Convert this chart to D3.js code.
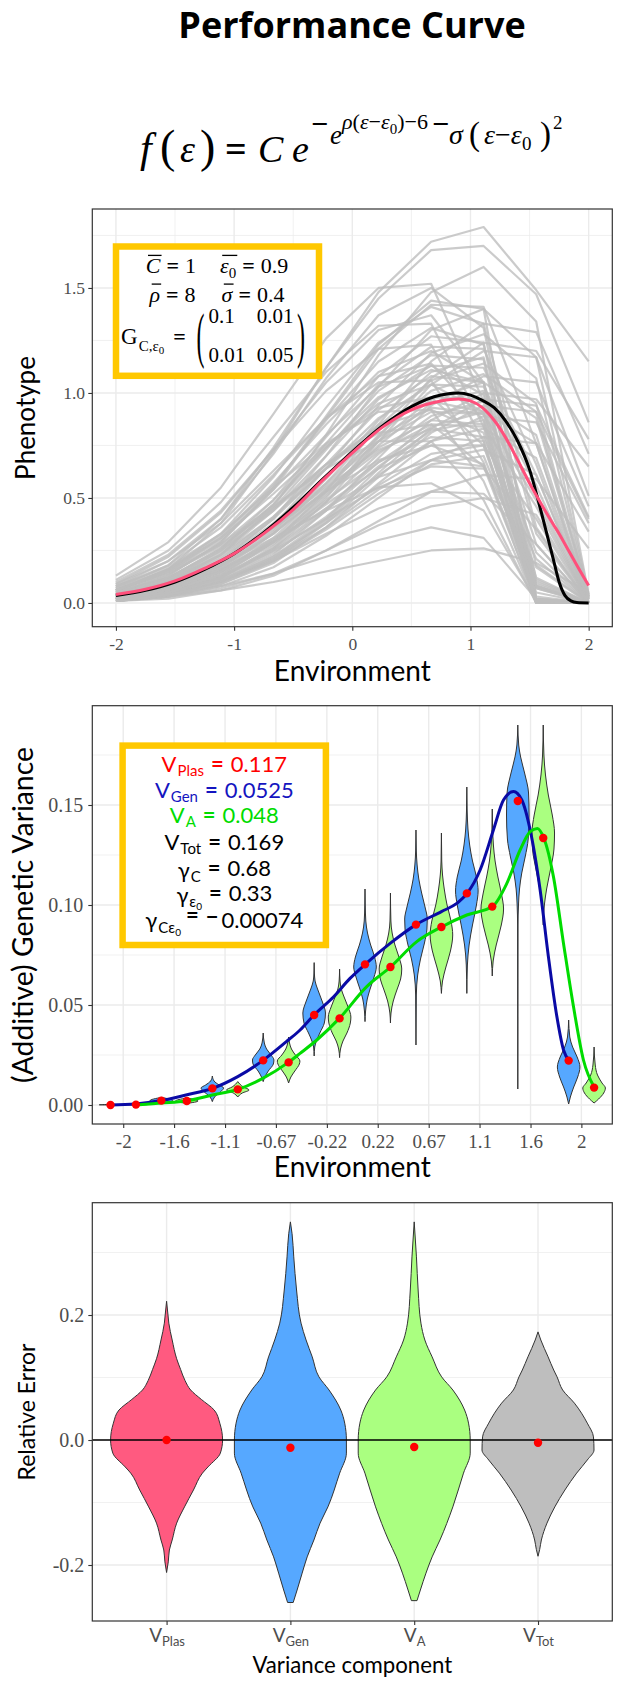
<!DOCTYPE html>
<html>
<head>
<meta charset="utf-8">
<script src="https://cdn.jsdelivr.net/npm/d3@7"></script>
<style>
  body { margin: 0; background: #fff; }
  svg  { display: block; }
</style>
</head>
<body>
<svg id="chart" width="621" height="1685"></svg>
<script>
// ---------- data ----------

// panel 1: environments where every individual curve is evaluated
const envGrid = [-2, -1.556, -1.111, -0.667, -0.222, 0.222, 0.667, 1.111, 1.556, 2];

// individual performance curves (grey)
const phenoLines = [
  [0.06,0.16,0.38,0.72,1.12,1.48,1.72,1.79,1.49,1.15],
  [0.07,0.18,0.40,0.74,1.12,1.45,1.68,1.70,1.47,0.86],
  [0.13,0.29,0.55,0.90,1.26,1.50,1.52,0.96,0.00,0.00],
  [0.08,0.20,0.40,0.71,1.07,1.37,1.50,1.31,0.11,0.00],
  [0.05,0.13,0.29,0.54,0.88,1.21,1.42,1.41,0.76,0.00],
  [0.03,0.08,0.20,0.40,0.70,1.03,1.30,1.40,1.17,0.04],
  [0.02,0.05,0.13,0.29,0.53,0.85,1.15,1.33,1.29,0.71],
  [0.09,0.22,0.43,0.73,1.05,1.30,1.37,1.05,0.01,0.00],
  [0.06,0.15,0.31,0.56,0.87,1.15,1.31,1.23,0.33,0.00],
  [0.05,0.12,0.26,0.49,0.79,1.08,1.27,1.24,0.02,0.00],
  [0.03,0.08,0.18,0.37,0.64,0.94,1.19,1.28,1.07,0.03],
  [0.10,0.23,0.44,0.73,1.01,1.21,1.23,0.77,0.00,0.00],
  [0.04,0.11,0.25,0.47,0.76,1.04,1.22,1.21,0.66,0.00],
  [0.02,0.05,0.12,0.26,0.48,0.77,1.04,1.20,1.17,0.51],
  [0.06,0.16,0.32,0.57,0.85,1.10,1.20,1.05,0.09,0.00],
  [0.02,0.07,0.17,0.34,0.59,0.87,1.10,1.17,0.18,0.00],
  [0.04,0.10,0.23,0.44,0.70,0.97,1.13,1.12,0.61,0.00],
  [0.08,0.18,0.36,0.61,0.88,1.08,1.14,0.87,0.01,0.00],
  [0.02,0.07,0.16,0.33,0.57,0.84,1.06,1.14,0.95,0.03],
  [0.05,0.12,0.26,0.47,0.74,0.98,1.11,1.05,0.28,0.00],
  [0.04,0.10,0.22,0.41,0.66,0.92,1.08,1.05,0.01,0.00],
  [0.01,0.04,0.11,0.23,0.44,0.69,0.94,1.08,1.05,0.46],
  [0.09,0.20,0.38,0.63,0.88,1.05,1.06,0.67,0.00,0.00],
  [0.04,0.10,0.21,0.40,0.64,0.88,1.04,1.03,0.56,0.00],
  [0.02,0.06,0.15,0.30,0.52,0.77,0.97,1.05,0.88,0.03],
  [0.06,0.14,0.28,0.49,0.74,0.95,1.04,0.91,0.07,0.00],
  [0.02,0.06,0.14,0.29,0.51,0.75,0.95,1.01,0.12,0.00],
  [0.035,0.09,0.20,0.38,0.60,0.83,0.98,0.97,0.52,0.00],
  [0.07,0.16,0.31,0.52,0.75,0.93,0.98,0.75,0.01,0.00],
  [0.01,0.04,0.10,0.21,0.39,0.62,0.83,0.97,0.94,0.41],
  [0.04,0.11,0.23,0.41,0.64,0.85,0.96,0.91,0.24,0.00],
  [0.02,0.06,0.14,0.28,0.48,0.71,0.89,0.96,0.80,0.02],
  [0.03,0.09,0.19,0.36,0.57,0.79,0.93,0.90,0.01,0.00],
  [0.08,0.17,0.33,0.55,0.76,0.91,0.92,0.58,0.00,0.00],
  [0.03,0.08,0.18,0.35,0.56,0.77,0.91,0.90,0.49,0.00],
  [0.05,0.12,0.25,0.44,0.66,0.84,0.92,0.81,0.07,0.00],
  [0.02,0.05,0.13,0.26,0.45,0.67,0.84,0.91,0.76,0.02],
  [0.01,0.03,0.09,0.19,0.36,0.57,0.77,0.89,0.86,0.38],
  [0.02,0.05,0.12,0.25,0.44,0.65,0.82,0.87,0.10,0.00],
  [0.03,0.08,0.17,0.33,0.53,0.72,0.85,0.84,0.46,0.00],
  [0.06,0.14,0.27,0.45,0.66,0.81,0.85,0.65,0.01,0.00],
  [0.04,0.09,0.19,0.36,0.55,0.73,0.83,0.79,0.21,0.00],
  [0.02,0.05,0.12,0.24,0.41,0.61,0.77,0.83,0.69,0.02],
  [0.03,0.07,0.16,0.30,0.49,0.67,0.79,0.77,0.01,0.00],
  [0.01,0.03,0.08,0.17,0.32,0.50,0.68,0.79,0.76,0.34],
  [0.06,0.15,0.28,0.46,0.64,0.77,0.77,0.49,0.00,0.00],
  [0.03,0.07,0.15,0.29,0.47,0.64,0.75,0.75,0.40,0.00],
  [0.04,0.10,0.20,0.36,0.53,0.68,0.75,0.66,0.05,0.00],
  [0.02,0.04,0.10,0.21,0.36,0.54,0.68,0.73,0.61,0.02],
  [0.01,0.04,0.10,0.20,0.35,0.52,0.66,0.70,0.08,0.00],
  [0.03,0.08,0.16,0.29,0.45,0.60,0.68,0.65,0.17,0.00],
  [0.02,0.06,0.13,0.25,0.40,0.55,0.65,0.64,0.35,0.00],
  [0.01,0.02,0.06,0.13,0.25,0.39,0.53,0.61,0.59,0.26],
  [0.04,0.09,0.18,0.31,0.44,0.55,0.57,0.44,0.01,0.00],
  [0.02,0.05,0.11,0.20,0.33,0.45,0.53,0.52,0.28,0.00],
  [0.01,0.03,0.07,0.14,0.25,0.37,0.46,0.50,0.42,0.01],
  [0.02,0.04,0.08,0.14,0.22,0.30,0.36,0.31,0.02,0.00],
  [0.01,0.03,0.06,0.10,0.15,0.20,0.25,0.26,0.19,0.05],
  [0.05,0.13,0.29,0.55,0.89,1.23,1.44,1.40,0.03,0.00],
  [0.11,0.25,0.48,0.79,1.10,1.32,1.33,0.84,0.00,0.00],
  [0.04,0.11,0.24,0.45,0.73,1.01,1.18,1.16,0.02,0.00],
  [0.06,0.15,0.30,0.54,0.80,1.03,1.13,0.99,0.08,0.00],
  [0.01,0.04,0.10,0.22,0.40,0.64,0.87,1.00,0.97,0.65],
  [0.03,0.08,0.18,0.33,0.54,0.74,0.87,0.85,0.01,0.00],
  [0.02,0.05,0.11,0.22,0.38,0.56,0.71,0.75,0.08,0.00],
  [0.03,0.10,0.23,0.46,0.80,1.18,1.48,1.60,1.34,0.04],
  [0.02,0.05,0.12,0.27,0.50,0.79,1.07,1.24,1.20,0.78],
  [0.02,0.07,0.15,0.31,0.54,0.80,1.01,1.09,0.91,0.03],
  [0.01,0.04,0.09,0.20,0.38,0.60,0.81,0.94,0.91,0.40],
  [0.06,0.16,0.33,0.60,0.93,1.24,1.41,1.33,0.36,0.00]
];

// smooth curves of panel 1
const envFine   = [-2,-1.75,-1.5,-1.25,-1,-0.75,-0.5,-0.25,0,0.25,0.5,0.75,0.9,1,1.1,1.2,1.3,1.4,1.5,1.6,1.7,1.75,1.8,1.85,1.9,2];
const truePerf  = [0.035,0.06,0.10,0.16,0.235,0.335,0.455,0.59,0.72,0.84,0.935,0.99,1.0,0.99,0.965,0.93,0.865,0.77,0.635,0.43,0.21,0.10,0.035,0.01,0.002,0];
const meanPerf  = [0.04,0.065,0.105,0.165,0.235,0.33,0.445,0.585,0.715,0.835,0.92,0.962,0.971,0.962,0.93,0.87,0.785,0.68,0.57,0.47,0.375,0.33,0.28,0.23,0.18,0.083];

// panel 2
const envLabels = ['-2','-1.6','-1.1','-0.67','-0.22','0.22','0.67','1.1','1.6','2'];
const dodge = 0.111;
const vGenMean = [0.0000,0.0022,0.0083,0.0223,0.0450,0.0703,0.0902,0.1058,0.1520,0.0222];
const vAMean   = [0.0002,0.0020,0.0078,0.0213,0.0433,0.0690,0.0890,0.0992,0.1335,0.0087];

// violin outlines: [variance, relative half width]
const vGenViolins = [
  [[0,0],[0.0001,1],[0.0003,0]],
  [[0.0008,0],[0.0022,1],[0.0038,0]],
  [[0.0017,0],[0.004,0.2],[0.007,0.8],[0.0085,1],[0.010,0.6],[0.012,0.15],[0.0145,0]],
  [[0.0117,0],[0.014,0.15],[0.017,0.45],[0.0205,0.9],[0.0225,0.95],[0.025,0.7],[0.028,0.3],[0.031,0.1],[0.036,0]],
  [[0.0245,0],[0.029,0.05],[0.032,0.2],[0.036,0.5],[0.041,0.9],[0.046,1],[0.052,0.7],[0.058,0.3],[0.062,0.08],[0.066,0.02],[0.0712,0]],
  [[0.0417,0],[0.047,0.05],[0.053,0.2],[0.058,0.45],[0.064,0.8],[0.069,1],[0.074,0.85],[0.08,0.5],[0.086,0.22],[0.092,0.07],[0.1,0.02],[0.108,0]],
  [[0.03,0],[0.055,0.03],[0.065,0.15],[0.073,0.4],[0.081,0.75],[0.088,0.97],[0.093,1],[0.099,0.8],[0.106,0.5],[0.113,0.25],[0.12,0.1],[0.127,0.03],[0.1375,0]],
  [[0.0558,0],[0.07,0.05],[0.08,0.2],[0.09,0.5],[0.1,0.85],[0.107,1],[0.114,0.85],[0.122,0.5],[0.13,0.25],[0.138,0.1],[0.147,0.03],[0.159,0]],
  [[0.008,0],[0.09,0.02],[0.1,0.06],[0.108,0.15],[0.116,0.35],[0.124,0.65],[0.133,0.92],[0.145,1],[0.156,0.95],[0.166,0.6],[0.174,0.25],[0.18,0.08],[0.19,0]],
  [[0.0005,0],[0.004,0.15],[0.009,0.45],[0.014,0.8],[0.019,1],[0.024,0.75],[0.029,0.35],[0.034,0.1],[0.0425,0]]
];
const vAViolins = [
  [[0,0],[0.0002,1],[0.0004,0]],
  [[0.0008,0],[0.002,1],[0.0035,0]],
  [[0.004,0],[0.006,0.4],[0.0075,1],[0.009,0.5],[0.0117,0]],
  [[0.011,0],[0.014,0.2],[0.017,0.55],[0.0205,0.95],[0.022,1],[0.025,0.6],[0.028,0.25],[0.031,0.08],[0.034,0]],
  [[0.0237,0],[0.028,0.08],[0.032,0.3],[0.036,0.65],[0.041,0.95],[0.044,1],[0.049,0.75],[0.054,0.4],[0.058,0.15],[0.062,0.04],[0.068,0]],
  [[0.041,0],[0.046,0.05],[0.052,0.25],[0.058,0.6],[0.063,0.9],[0.068,1],[0.074,0.75],[0.08,0.4],[0.086,0.15],[0.092,0.04],[0.106,0]],
  [[0.0558,0],[0.062,0.1],[0.069,0.4],[0.077,0.8],[0.085,1],[0.092,0.85],[0.1,0.5],[0.108,0.25],[0.115,0.1],[0.122,0.03],[0.136,0]],
  [[0.0645,0],[0.072,0.08],[0.08,0.35],[0.09,0.8],[0.098,1],[0.106,0.8],[0.114,0.5],[0.122,0.25],[0.13,0.1],[0.138,0.03],[0.148,0]],
  [[0.09,0],[0.1,0.1],[0.108,0.3],[0.118,0.65],[0.128,0.95],[0.136,1],[0.145,0.8],[0.155,0.45],[0.165,0.2],[0.175,0.06],[0.19,0]],
  [[0.001,0],[0.003,0.4],[0.006,0.85],[0.0085,1],[0.011,0.7],[0.015,0.3],[0.02,0.1],[0.029,0]]
];

// smooth variance curves (position on the environment axis, variance)
const genCurveEnv = [-2.115,-1.891,-1.670,-1.452,-1.222,-1.0,-0.782,-0.558,-0.456,-0.334,-0.165,-0.020,0.112,0.330,0.557,0.778,0.912,1.002,1.116,1.232,1.320,1.407,1.480,1.553,1.640,1.712,1.786,1.844,1.893];
const genCurveVal = [0,0.0005,0.0022,0.005,0.0083,0.0142,0.0222,0.0325,0.0375,0.045,0.054,0.0633,0.0703,0.0808,0.0902,0.0967,0.1008,0.1058,0.1175,0.1375,0.1525,0.1567,0.1525,0.1375,0.1075,0.0742,0.0442,0.0275,0.0222];
const aCurveEnv   = [-1.891,-1.670,-1.452,-1.222,-1.0,-0.782,-0.558,-0.456,-0.310,-0.113,0.126,0.333,0.563,0.778,1.0,1.223,1.349,1.465,1.553,1.616,1.672,1.756,1.844,1.931,2.018,2.114];
const aCurveVal   = [0,0.001,0.002,0.005,0.0078,0.0133,0.0213,0.0258,0.0325,0.0433,0.0592,0.069,0.0817,0.089,0.095,0.0992,0.1108,0.1275,0.1367,0.1383,0.1335,0.1142,0.0808,0.0492,0.0225,0.0087];

// panel 3
const components  = ['Plas', 'Gen', 'A', 'Tot'];
const relErrMean  = [0, -0.0123, -0.0112, -0.0043];
const relErrViolins = [
  [[-0.212,0],[-0.195,0.03],[-0.176,0.05],[-0.16,0.1],[-0.133,0.18],[-0.107,0.32],[-0.08,0.48],[-0.053,0.64],[-0.043,0.74],[-0.021,0.96],[0,1],[0.027,0.95],[0.048,0.85],[0.065,0.62],[0.08,0.43],[0.095,0.33],[0.113,0.25],[0.13,0.18],[0.16,0.1],[0.187,0.04],[0.2,0.025],[0.222,0]],
  [[-0.26,0.05],[-0.24,0.12],[-0.213,0.21],[-0.187,0.30],[-0.16,0.42],[-0.133,0.53],[-0.107,0.67],[-0.053,0.88],[-0.021,1],[0,1],[0.027,0.97],[0.048,0.9],[0.08,0.69],[0.101,0.51],[0.133,0.39],[0.16,0.28],[0.187,0.19],[0.24,0.11],[0.293,0.06],[0.33,0.03],[0.349,0]],
  [[-0.257,0.05],[-0.24,0.11],[-0.213,0.21],[-0.187,0.32],[-0.16,0.46],[-0.107,0.69],[-0.053,0.88],[-0.021,1],[0,1],[0.027,0.97],[0.048,0.9],[0.08,0.69],[0.101,0.49],[0.133,0.32],[0.16,0.19],[0.187,0.12],[0.24,0.07],[0.293,0.04],[0.349,0]],
  [[-0.186,0],[-0.175,0.03],[-0.16,0.06],[-0.133,0.16],[-0.107,0.30],[-0.08,0.48],[-0.053,0.69],[-0.032,0.88],[-0.016,1],[0.005,0.99],[0.027,0.88],[0.059,0.65],[0.08,0.44],[0.101,0.34],[0.112,0.28],[0.133,0.18],[0.16,0.05],[0.173,0]]
];

// ---------- styling ----------
const SANS  = 'Lato, "Open Sans", sans-serif';
const SERIF = '"Liberation Serif", "DejaVu Serif", serif';
const GRID = '#EBEBEB', INK = '#333333', TICKTXT = '#4D4D4D';
const GOLD = '#FFC800';
const PINK = '#FF5A80', BLUE = '#56A8FF', GREEN = '#AAFF80', GREY = '#BEBEBE';
const LINE_BLUE = '#0A0AA5', LINE_GREEN = '#00DC00';

const P1 = { l: 92.3, r: 612.3, t: 209,   b: 626.7 };
const P2 = { l: 92.3, r: 612.3, t: 705.7, b: 1124 };
const P3 = { l: 92.3, r: 612.3, t: 1202.7, b: 1621 };

const svg = d3.select('#chart');
svg.append('rect').attr('width', 621).attr('height', 1685).attr('fill', '#fff');

// ---------- helpers ----------
function fitText(sel, width, maxSize) {
  const fs = parseFloat(sel.attr('font-size'));
  const w = sel.node().getComputedTextLength();
  let nf = fs * width / w;
  if (maxSize) nf = Math.min(nf, maxSize);
  sel.attr('font-size', nf);
}
const hyphen = f => d => f(d).replace('−', '-');

// lay out pieces of text left to right (sub/superscripts via dy, fixed spots via at)
function mathLine(parent, pieces) {
  const g = parent.append('g');
  let x = 0;
  const pos = [];
  pieces.forEach(p => {
    if (p.at != null) x = p.at;
    x += p.pre || 0;
    const t = g.append('text')
      .attr('font-family', p.family || SERIF)
      .attr('font-size', p.size)
      .attr('font-style', p.italic ? 'italic' : null)
      .attr('font-weight', p.bold ? 'bold' : null)
      .attr('fill', p.fill || '#000')
      .attr('transform', `translate(${x},${p.dy || 0})`)
      .text(p.t);
    const w = t.node().getComputedTextLength();
    pos.push({ x, w });
    x += w + (p.post || 0);
  });
  pieces.forEach((p, i) => {
    if (!p.bar) return;
    const last = pos[i + p.bar - 1];
    const sh = p.italic ? p.size * 0.1 : 0;
    const yb = (p.dy || 0) - p.size * 0.8;
    g.append('line')
      .attr('x1', pos[i].x + sh).attr('x2', last.x + last.w + sh * 0.5)
      .attr('y1', yb).attr('y2', yb)
      .attr('stroke', p.fill || '#000').attr('stroke-width', 1.3);
  });
  return { g, width: x };
}
function centerLine(parent, pieces, cx, baseline) {
  const m = mathLine(parent, pieces);
  m.g.attr('transform', `translate(${cx - m.width / 2},${baseline})`);
  return m;
}

function grid(g, P, xs, ys, vMaj, vMin, hMaj, hMin) {
  const gg = g.append('g');
  const v = (vals, w) => gg.selectAll(null).data(vals).join('line')
    .attr('x1', d => xs(d)).attr('x2', d => xs(d)).attr('y1', P.t).attr('y2', P.b)
    .attr('stroke', GRID).attr('stroke-width', w);
  const h = (vals, w) => gg.selectAll(null).data(vals).join('line')
    .attr('y1', d => ys(d)).attr('y2', d => ys(d)).attr('x1', P.l).attr('x2', P.r)
    .attr('stroke', GRID).attr('stroke-width', w);
  v(vMin, 0.7); h(hMin, 0.7); v(vMaj, 1.4); h(hMaj, 1.4);
}

function border(g, P) {
  g.append('rect').attr('x', P.l).attr('y', P.t)
    .attr('width', P.r - P.l).attr('height', P.b - P.t)
    .attr('fill', 'none').attr('stroke', INK).attr('stroke-width', 1.2);
}

function yAxis(g, P, scale, ticks, fmt, fs, labelRight) {
  const ax = g.append('g').attr('transform', `translate(${P.l},0)`)
    .call(d3.axisLeft(scale).tickValues(ticks).tickSize(4).tickFormat(fmt));
  ax.select('.domain').remove();
  ax.selectAll('line').attr('stroke', INK).attr('stroke-width', 1.1);
  ax.selectAll('text')
    .attr('x', labelRight - P.l).attr('dy', '0.34em')
    .attr('fill', TICKTXT).attr('font-family', SERIF).attr('font-size', fs);
  return ax;
}
function xAxis(g, P, scale, ticks, fmt, fs, baseline) {
  const ax = g.append('g').attr('transform', `translate(0,${P.b})`)
    .call(d3.axisBottom(scale).tickValues(ticks).tickSize(4).tickFormat(fmt));
  ax.select('.domain').remove();
  ax.selectAll('line').attr('stroke', INK).attr('stroke-width', 1.1);
  ax.selectAll('text')
    .attr('y', baseline - P.b).attr('dy', null)
    .attr('fill', TICKTXT).attr('font-family', SERIF).attr('font-size', fs);
  return ax;
}
function axisTitle(g, txt, x, y, fs, width, rotate) {
  const t = g.append('text')
    .attr('transform', rotate ? `translate(${x},${y}) rotate(-90)` : `translate(${x},${y})`)
    .attr('text-anchor', 'middle')
    .attr('font-family', SANS).attr('font-size', fs).attr('fill', '#000')
    .text(txt);
  if (width) fitText(t, width);
  return t;
}

// ---------- title + formula ----------
const title = svg.append('text')
  .attr('x', 352).attr('y', 38).attr('text-anchor', 'middle')
  .attr('font-family', '"Open Sans", Lato, sans-serif').attr('font-weight', 'bold').attr('font-size', 35)
  .text('Performance Curve');
fitText(title, 366, 36);

const it = (t, size, o = {}) => Object.assign({ t, size, italic: true }, o);
const up = (t, size, o = {}) => Object.assign({ t, size }, o);
const formula = mathLine(svg, [
  it('f', 42, { at: 140 }),
  up('(', 46, { at: 160 }),
  it('ε', 38, { at: 180 }),
  up(')', 46, { at: 200 }),
  up('=', 38, { bold: true, at: 225 }),
  it('C', 38, { at: 258 }),
  it('e', 38, { at: 292 }),
  up('−', 30, { dy: -28, bold: true, at: 311 }),
  it('e', 27, { dy: -18, at: 330 }),
  it('ρ', 22, { dy: -33, at: 342 }),
  up('(', 22, { dy: -33 }),
  it('ε', 22, { dy: -33 }),
  up('−', 22, { dy: -33 }),
  it('ε', 22, { dy: -33 }),
  up('0', 15, { dy: -28 }),
  up(')', 22, { dy: -33 }),
  up('−6', 22, { dy: -33 }),
  up('−', 30, { dy: -28, bold: true, at: 432 }),
  it('σ', 28, { dy: -18, at: 449 }),
  up('(', 33, { dy: -17, at: 469 }),
  it('ε', 28, { dy: -18, at: 484 }),
  up('−', 28, { dy: -18 }),
  it('ε', 28, { dy: -18 }),
  up('0', 19, { dy: -12 }),
  up(')', 33, { dy: -17, at: 540 }),
  up('2', 19, { dy: -33, at: 553 })
]);
formula.g.attr('transform', 'translate(0,161.5)');

// ---------- panel 1 : performance curves ----------
{
  const g = svg.append('g');
  const x = d3.scaleLinear().domain([-2.2, 2.2]).range([P1.l, P1.r]);
  const y = d3.scaleLinear().domain([-0.113, 1.876]).range([P1.b, P1.t]);

  grid(g, P1, x, y, [-2, -1, 0, 1, 2], [-1.5, -0.5, 0.5, 1.5],
       [0, 0.5, 1, 1.5], [0.25, 0.75, 1.25, 1.75]);

  const indiv = d3.line().x((d, i) => x(envGrid[i])).y(d => y(d));
  g.append('g').selectAll('path').data(phenoLines).join('path')
    .attr('d', indiv)
    .attr('fill', 'none').attr('stroke', GREY)
    .attr('stroke-opacity', 0.8).attr('stroke-width', 2.2)
    .attr('stroke-linejoin', 'round');

  const smooth = vals => d3.line().curve(d3.curveMonotoneX)
    .x((d, i) => x(envFine[i])).y(d => y(d))(vals);
  g.append('path').attr('d', smooth(truePerf))
    .attr('fill', 'none').attr('stroke', '#000').attr('stroke-width', 3);
  g.append('path').attr('d', smooth(meanPerf))
    .attr('fill', 'none').attr('stroke', '#FF4F7B').attr('stroke-width', 3);

  // parameter box
  g.append('rect').attr('x', 116).attr('y', 246.5).attr('width', 203).attr('height', 129.3)
    .attr('fill', '#fff').attr('stroke', GOLD).attr('stroke-width', 6.5);
  const fs = 22;
  centerLine(g, [
    it('C', fs, { bar: 1 }), up('=', fs, { bold: true, pre: 6, post: 6 }), up('1', fs),
    it('ε', fs, { bar: 2, pre: 24 }), up('0', 15, { dy: 5 }),
    up('=', fs, { bold: true, pre: 6, post: 6 }), up('0.9', fs)
  ], 217, 273);
  centerLine(g, [
    it('ρ', fs, { bar: 1 }), up('=', fs, { bold: true, pre: 6, post: 6 }), up('8', fs),
    it('σ', fs, { bar: 1, pre: 26 }),
    up('=', fs, { bold: true, pre: 6, post: 6 }), up('0.4', fs)
  ], 217, 301.7);
  const gl = mathLine(g, [
    up('G', 23), up('C,', 15, { dy: 7, pre: 1 }), up('ε', 15, { dy: 7 }), up('0', 11, { dy: 10 }),
    up('=', fs, { bold: true, pre: 9 })
  ]);
  gl.g.attr('transform', 'translate(121,344)');
  const paren = (ch, px) => g.append('text')
    .attr('transform', `translate(${px},356) scale(1,2.55)`)
    .attr('font-family', SERIF).attr('font-size', 24).text(ch);
  paren('(', 196.5);
  paren(')', 297);
  const mat = [['0.1', '0.01'], ['0.01', '0.05']];
  mat.forEach((row, ri) => row.forEach((v, ci) => {
    g.append('text')
      .attr('x', ci ? 256.7 : 208.5).attr('y', ri ? 361.7 : 323.3)
      .attr('font-family', SERIF).attr('font-size', 21).text(v);
  }));

  border(g, P1);
  yAxis(g, P1, y, [0, 0.5, 1, 1.5], hyphen(d3.format('.1f')), 17.5, 85);
  xAxis(g, P1, x, [-2, -1, 0, 1, 2], hyphen(d3.format('d')), 17.5, 650);
  axisTitle(g, 'Environment', 352.3, 681, 26, 157);
  axisTitle(g, 'Phenotype', 35, 418, 26, null, true);
}

// ---------- panel 2 : genetic variance across environments ----------
{
  const g = svg.append('g');
  const x = d3.scaleLinear().domain([-2.27, 2.27]).range([P2.l, P2.r]);
  const y = d3.scaleLinear().domain([-0.0095, 0.19965]).range([P2.b, P2.t]);
  const halfW = d3.scaleLinear().domain([0, 1]).range([0, 11.3]);

  grid(g, P2, x, y, envGrid, [], [0, 0.05, 0.1, 0.15], [0.025, 0.075, 0.125, 0.175]);

  const violin = (cx, prof, fill) => {
    const area = d3.area().curve(d3.curveMonotoneY)
      .y(d => y(d[0])).x0(d => cx - halfW(d[1])).x1(d => cx + halfW(d[1]));
    g.append('path').attr('d', area(prof))
      .attr('fill', fill).attr('stroke', INK).attr('stroke-width', 1);
  };
  envGrid.forEach((e, i) => {
    violin(x(e - dodge), vGenViolins[i], BLUE);
    violin(x(e + dodge), vAViolins[i], GREEN);
  });

  const curve = (xs, ys) => d3.line().curve(d3.curveMonotoneX)
    .x((d, i) => x(xs[i])).y(d => y(d))(ys);
  g.append('path').attr('d', curve(genCurveEnv, genCurveVal))
    .attr('fill', 'none').attr('stroke', LINE_BLUE).attr('stroke-width', 3);
  g.append('path').attr('d', curve(aCurveEnv, aCurveVal))
    .attr('fill', 'none').attr('stroke', LINE_GREEN).attr('stroke-width', 3);

  const pts = envGrid.flatMap((e, i) => [[e - dodge, vGenMean[i]], [e + dodge, vAMean[i]]]);
  g.selectAll(null).data(pts).join('circle')
    .attr('cx', d => x(d[0])).attr('cy', d => y(d[1])).attr('r', 4.2)
    .attr('fill', '#FF0000');

  // variance box
  g.append('rect').attr('x', 122.6).attr('y', 745.6).attr('width', 203.3).attr('height', 199.4)
    .attr('fill', '#fff').attr('stroke', GOLD).attr('stroke-width', 6.5);
  const L = (t, size, o = {}) => Object.assign({ t, size, family: SANS }, o);
  const sub = (t, fill, o = {}) => L(t, 15, Object.assign({ dy: 4, pre: 1, fill }, o));
  const eq = (fill, o = {}) => L('=', 22, Object.assign({ bold: true, pre: 7, post: 7, fill }, o));
  const cx = 224.3;
  const RED = '#FF0000', TXTBLUE = '#1414C0';
  centerLine(g, [L('V', 22, { fill: RED }), sub('Plas', RED), eq(RED), L('0.117', 22, { fill: RED })], cx, 772);
  centerLine(g, [L('V', 22, { fill: TXTBLUE }), sub('Gen', TXTBLUE), eq(TXTBLUE), L('0.0525', 22, { fill: TXTBLUE })], cx, 797.5);
  centerLine(g, [L('V', 22, { fill: LINE_GREEN }), sub('A', LINE_GREEN), eq(LINE_GREEN), L('0.048', 22, { fill: LINE_GREEN })], cx, 823.3);
  centerLine(g, [L('V', 22), sub('Tot'), eq('#000'), L('0.169', 22)], cx, 849.8);
  centerLine(g, [L('γ', 22), sub('C'), eq('#000', { dy: -2 }), L('0.68', 22, { dy: -2 })], cx, 878);
  centerLine(g, [L('γ', 22), sub('ε'), L('0', 10, { dy: 7 }), eq('#000', { dy: -2 }), L('0.33', 22, { dy: -2 })], cx, 903);
  centerLine(g, [L('γ', 22), sub('Cε', undefined, { dy: 5 }), L('0', 10, { dy: 8 }), eq('#000', { dy: -5, pre: 5 }), L('−', 22, { bold: true, dy: -3, post: 3 }), L('0.00074', 22)], cx, 927.8);

  border(g, P2);
  yAxis(g, P2, y, [0, 0.05, 0.1, 0.15], d3.format('.2f'), 20, 83.3);
  xAxis(g, P2, x, envGrid, (d, i) => envLabels[i], 19, 1148);
  axisTitle(g, 'Environment', 352.3, 1177, 26, 157);
  axisTitle(g, '(Additive) Genetic Variance', 33, 915, 26, 336, true);
}

// ---------- panel 3 : relative error ----------
{
  const g = svg.append('g');
  const x = d3.scalePoint().domain(components).range([P3.l, P3.r]).padding(0.6);
  const y = d3.scaleLinear().domain([-0.2896, 0.3797]).range([P3.b, P3.t]);
  const halfW = d3.scaleLinear().domain([0, 1]).range([0, 56]);
  const fills = [PINK, BLUE, GREEN, GREY];

  grid(g, P3, x, y, components, [], [-0.2, 0, 0.2], [-0.1, 0.1, 0.3]);

  components.forEach((c, i) => {
    const cx = x(c);
    const area = d3.area().curve(d3.curveMonotoneY)
      .y(d => y(d[0])).x0(d => cx - halfW(d[1])).x1(d => cx + halfW(d[1]));
    g.append('path').attr('d', area(relErrViolins[i]))
      .attr('fill', fills[i]).attr('stroke', INK).attr('stroke-width', 1);
  });

  g.append('line').attr('x1', P3.l).attr('x2', P3.r)
    .attr('y1', y(0)).attr('y2', y(0))
    .attr('stroke', '#000').attr('stroke-width', 1.5);

  g.selectAll(null).data(components).join('circle')
    .attr('cx', d => x(d)).attr('cy', (d, i) => y(relErrMean[i])).attr('r', 4.2)
    .attr('fill', '#FF0000');

  border(g, P3);
  yAxis(g, P3, y, [-0.2, 0, 0.2], hyphen(d3.format('.1f')), 20, 84.3);
  const ax = xAxis(g, P3, x, components, d => d, 19, 1642.3);
  ax.selectAll('text').each(function (d) {
    const t = d3.select(this).text(null).attr('font-family', SANS);
    t.append('tspan').text('V');
    t.append('tspan').attr('font-size', 13).attr('dy', 4).text(d);
  });
  axisTitle(g, 'Variance component', 352.3, 1673, 22, 200);
  axisTitle(g, 'Relative Error', 35, 1412, 22, 137, true);
}
</script>
</body>
</html>
